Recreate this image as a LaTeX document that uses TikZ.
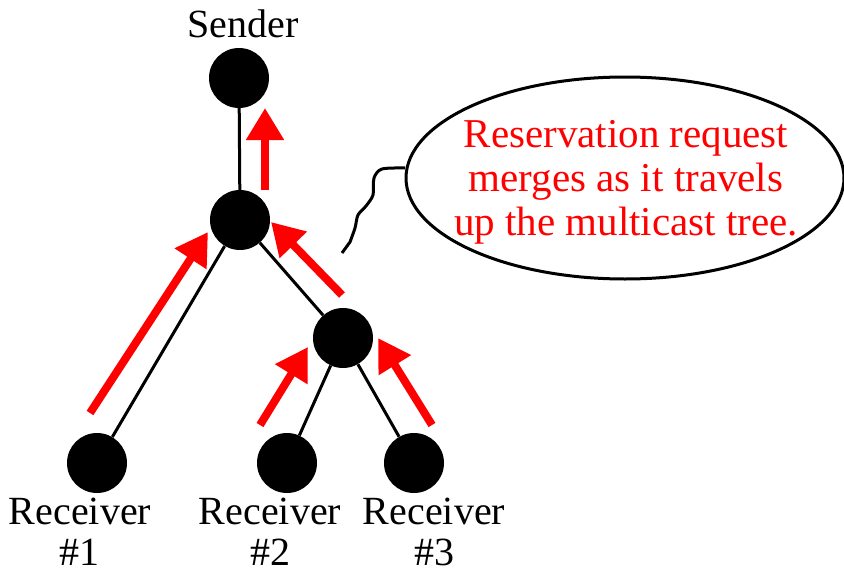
\documentclass[tikz,border=0pt]{standalone}
\usepackage{fontspec}
\setmainfont{Liberation Serif}
\usepackage{xcolor}
\usetikzlibrary{arrows.meta,shapes.geometric}

\begin{document}
\begin{tikzpicture}[x=1pt,y=-1pt,
	host/.style={circle,fill=black,minimum size=60pt,inner sep=0pt},
	edge/.style={line width=3pt},
	req/.style={red,line width=8pt,-{Triangle[length=32pt,width=36pt]}},
	lbl/.style={align=center,inner sep=1pt,font=\fontsize{40}{41}\selectfont},
	note/.style={align=center,text=red,font=\fontsize{41}{44}\selectfont}]
		\useasboundingbox (0,0) rectangle (844,573);
		% 绘制结点
		\node[host] (snd) at (239,78) {};
		\node[host] (m1) at (240,220) {};
		\node[host] (m2) at (343,338) {};
		\node[host] (r1) at (97,463) {};
		\node[host] (r2) at (287,463) {};
		\node[host] (r3) at (414,463) {};
		% 绘制组播树
		\draw[edge] (snd) -- (m1);
		\draw[edge] (m1) -- (r1);
		\draw[edge] (m1) -- (m2);
		\draw[edge] (m2) -- (r2);
		\draw[edge] (m2) -- (r3);
		% 绘制标签
		\node[lbl] (sl) at (243,24) {Sender};
		\node[lbl] (l1) at (80,532) {Receiver\\\#1};
		\node[lbl] (l2) at (270,532) {Receiver\\\#2};
		\node[lbl] (l3) at (434,532) {Receiver\\\#3};
		% 绘制预留请求箭头
		\coordinate (a0s) at (265,190);
		\coordinate (a0e) at (265,108);
		\coordinate (a1s) at (90,413);
		\coordinate (a1e) at (208,232);
		\coordinate (a2s) at (342,295);
		\coordinate (a2e) at (271,222);
		\coordinate (a3s) at (260,425);
		\coordinate (a3e) at (308,347);
		\coordinate (a4s) at (432,425);
		\coordinate (a4e) at (378,338);
		\draw[req] (a0s) -- (a0e);
		\draw[req] (a1s) -- (a1e);
		\draw[req] (a2s) -- (a2e);
		\draw[req] (a3s) -- (a3e);
		\draw[req] (a4s) -- (a4e);
		% 绘制对话气泡
		\node[draw,ellipse,line width=3pt,minimum width=438pt,minimum height=202pt,inner sep=0pt] (bub) at (625,178) {};
		\node[note] (txt) at (626,182) {Reservation request\\merges as it travels\\up the multicast tree.};
		\coordinate (tail) at (342,253);
		\draw[line width=3pt] (bub.177) plot[smooth] coordinates {(405,168) (382,169) (374,178) (373,195) (366,206) (358,215) (355,228) (350,242)} -- (tail);
\end{tikzpicture}
\end{document}
